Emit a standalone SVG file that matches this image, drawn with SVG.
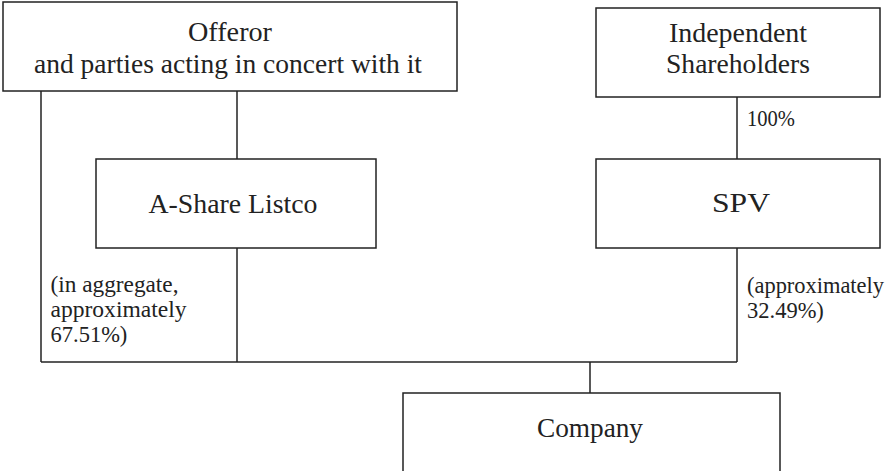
<svg xmlns="http://www.w3.org/2000/svg" width="885" height="471" viewBox="0 0 885 471">
<style>
.box{fill:#fff;stroke:#222;stroke-width:1.5}
.t{font-family:"Liberation Serif","Times New Roman",serif;fill:#222;text-anchor:middle;font-size:27.5px}
.s{font-family:"Liberation Serif","Times New Roman",serif;fill:#222;font-size:22.5px}
.c{stroke:#222;stroke-width:1.5;fill:none}
</style>
<rect width="885" height="471" fill="#fff"/>
<g id="connectors">
<line class="c" x1="41" y1="91" x2="41" y2="362"/>
<line class="c" x1="237" y1="91" x2="237" y2="159"/>
<line class="c" x1="237" y1="248" x2="237" y2="362"/>
<line class="c" x1="737" y1="97" x2="737" y2="159"/>
<line class="c" x1="737" y1="248" x2="737" y2="362"/>
<line class="c" x1="41" y1="362" x2="737" y2="362"/>
<line class="c" x1="590" y1="362" x2="590" y2="393"/>
<text class="s" x="747" y="126" textLength="48" lengthAdjust="spacingAndGlyphs">100%</text>
<text class="s" x="50.5" y="292" textLength="128" lengthAdjust="spacingAndGlyphs">(in aggregate,</text>
<text class="s" x="50.5" y="317" textLength="136" lengthAdjust="spacingAndGlyphs">approximately</text>
<text class="s" x="50.5" y="342">67.51%)</text>
<text class="s" x="747" y="293" textLength="137" lengthAdjust="spacingAndGlyphs">(approximately</text>
<text class="s" x="747" y="318">32.49%)</text>
</g>
<g id="offeror">
<rect class="box" x="3" y="2" width="454" height="89"/>
<text class="t" x="230" y="41" textLength="84" lengthAdjust="spacingAndGlyphs">Offeror</text>
<text class="t" x="228" y="73">and parties acting in concert with it</text>
</g>
<g id="independent">
<rect class="box" x="596" y="8" width="284" height="89"/>
<text class="t" x="738" y="42" textLength="138" lengthAdjust="spacingAndGlyphs">Independent</text>
<text class="t" x="738" y="73" textLength="144" lengthAdjust="spacingAndGlyphs">Shareholders</text>
</g>
<g id="listco">
<rect class="box" x="96" y="159" width="280" height="89"/>
<text class="t" x="233" y="213" textLength="169" lengthAdjust="spacingAndGlyphs">A-Share Listco</text>
</g>
<g id="spv">
<rect class="box" x="596" y="159" width="284" height="89"/>
<text class="t" x="741" y="212" textLength="58" lengthAdjust="spacingAndGlyphs">SPV</text>
</g>
<g id="company">
<rect class="box" x="403" y="393" width="377" height="90"/>
<text class="t" x="590" y="437" textLength="106" lengthAdjust="spacingAndGlyphs">Company</text>
</g>
</svg>
